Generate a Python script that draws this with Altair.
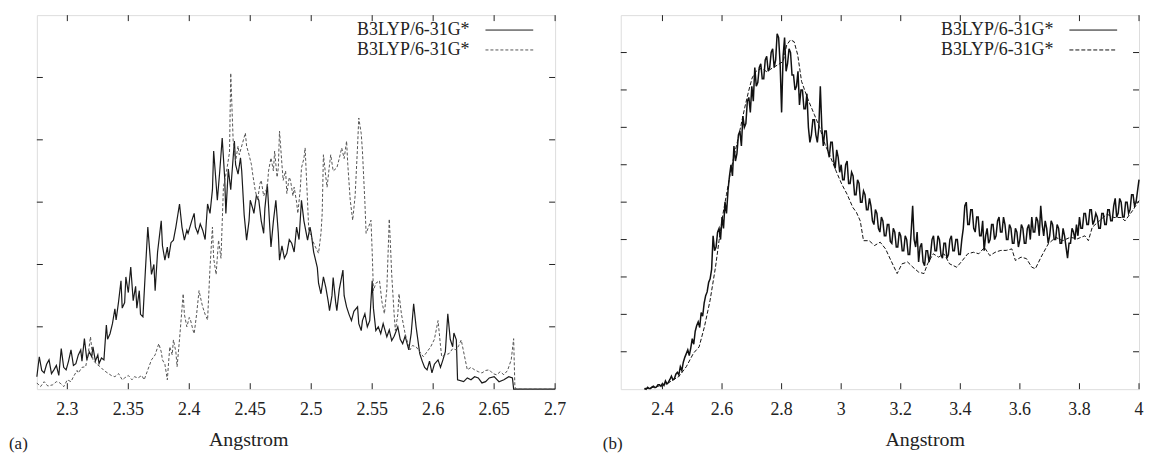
import altair as alt
import pandas as pd

FONT = "Liberation Serif"
W, H = 521, 376

LEGEND_LABELS = ["B3LYP/6-31G*", "B3LYP/6-31G*"]
X_TITLE = "Angstrom"
PANEL_TAGS = ["(a)", "(b)"]

# ---------------- panel (a) ----------------
A_XDOMAIN = [2.275, 2.7]
A_YDOMAIN = [0, 6]
A_XTICKS = [2.3, 2.35, 2.4, 2.45, 2.5, 2.55, 2.6, 2.65, 2.7]
A_XLABELS = ["2.3", "2.35", "2.4", "2.45", "2.5", "2.55", "2.6", "2.65", "2.7"]
A_YTICKS = [1, 2, 3, 4, 5]

A_SOLID_X = [2.275, 2.277, 2.279, 2.281, 2.283, 2.285, 2.287, 2.289, 2.291, 2.293, 2.295, 2.297, 2.299, 2.301, 2.303, 2.305, 2.307, 2.309, 2.311, 2.312, 2.314, 2.316, 2.318, 2.320, 2.321, 2.323, 2.325, 2.326, 2.328, 2.330, 2.332, 2.333, 2.335, 2.337, 2.339, 2.340, 2.342, 2.344, 2.345, 2.347, 2.348, 2.350, 2.352, 2.354, 2.356, 2.357, 2.359, 2.360, 2.362, 2.364, 2.366, 2.368, 2.369, 2.371, 2.372, 2.374, 2.377, 2.378, 2.380, 2.382, 2.383, 2.385, 2.387, 2.389, 2.392, 2.394, 2.396, 2.398, 2.399, 2.402, 2.404, 2.405, 2.407, 2.409, 2.411, 2.413, 2.415, 2.417, 2.419, 2.420, 2.422, 2.423, 2.425, 2.427, 2.429, 2.430, 2.432, 2.434, 2.437, 2.438, 2.440, 2.442, 2.443, 2.445, 2.447, 2.449, 2.450, 2.452, 2.453, 2.455, 2.457, 2.459, 2.461, 2.462, 2.464, 2.466, 2.467, 2.469, 2.471, 2.473, 2.474, 2.476, 2.478, 2.480, 2.482, 2.484, 2.486, 2.488, 2.490, 2.492, 2.494, 2.497, 2.499, 2.500, 2.502, 2.505, 2.506, 2.508, 2.510, 2.512, 2.514, 2.515, 2.517, 2.518, 2.520, 2.521, 2.523, 2.526, 2.527, 2.529, 2.531, 2.533, 2.535, 2.538, 2.539, 2.541, 2.542, 2.544, 2.546, 2.548, 2.550, 2.551, 2.553, 2.555, 2.557, 2.559, 2.562, 2.564, 2.566, 2.568, 2.571, 2.573, 2.575, 2.577, 2.580, 2.582, 2.584, 2.586, 2.589, 2.591, 2.593, 2.595, 2.597, 2.599, 2.601, 2.604, 2.606, 2.608, 2.610, 2.612, 2.614, 2.616, 2.617, 2.619, 2.620, 2.625, 2.628, 2.631, 2.634, 2.637, 2.640, 2.643, 2.646, 2.650, 2.654, 2.658, 2.662, 2.665, 2.666, 2.700]
A_SOLID_Y = [0.20, 0.52, 0.30, 0.26, 0.40, 0.47, 0.25, 0.31, 0.38, 0.22, 0.65, 0.35, 0.31, 0.45, 0.63, 0.38, 0.41, 0.55, 0.63, 0.45, 0.81, 0.47, 0.60, 0.52, 0.68, 0.45, 0.55, 0.41, 0.50, 0.47, 1.03, 0.80, 0.89, 1.05, 1.29, 1.11, 1.40, 1.74, 1.30, 1.39, 1.80, 1.55, 1.96, 1.42, 1.65, 1.30, 1.58, 1.20, 1.16, 1.90, 2.60, 2.10, 1.84, 2.00, 1.58, 2.20, 2.70, 2.30, 2.07, 2.28, 2.10, 2.35, 2.39, 2.60, 2.97, 2.60, 2.39, 2.55, 2.50, 2.70, 2.82, 2.60, 2.50, 2.65, 2.55, 2.40, 2.97, 2.82, 3.20, 3.82, 3.30, 3.03, 3.50, 4.03, 3.40, 2.82, 3.53, 3.20, 3.98, 3.60, 3.45, 3.71, 3.50, 2.80, 2.39, 2.70, 3.03, 2.90, 2.82, 3.10, 3.03, 2.70, 2.50, 2.90, 3.29, 2.60, 2.28, 2.70, 3.03, 2.50, 2.07, 2.30, 2.10, 2.18, 2.40, 2.34, 2.20, 2.60, 2.40, 3.03, 2.70, 2.39, 2.60, 2.50, 2.20, 1.95, 1.70, 1.53, 1.80, 1.63, 1.40, 1.26, 1.50, 1.79, 1.40, 1.26, 1.60, 1.91, 1.50, 1.32, 1.20, 1.10, 1.25, 1.32, 1.05, 0.94, 1.10, 1.21, 1.00, 1.10, 1.74, 1.30, 0.94, 1.00, 0.89, 1.05, 0.84, 0.95, 0.78, 0.85, 1.00, 0.80, 0.73, 0.85, 0.63, 0.90, 1.37, 1.00, 0.57, 0.45, 0.35, 0.31, 0.45, 0.26, 0.40, 0.47, 0.35, 0.47, 0.60, 1.21, 0.80, 0.68, 0.90, 0.79, 0.15, 0.12, 0.18, 0.15, 0.20, 0.18, 0.10, 0.12, 0.18, 0.20, 0.12, 0.15, 0.20, 0.18, 0.00, 0.00]

A_DASH_X = [2.275, 2.278, 2.281, 2.284, 2.288, 2.291, 2.294, 2.297, 2.300, 2.303, 2.305, 2.308, 2.309, 2.312, 2.315, 2.317, 2.319, 2.321, 2.324, 2.327, 2.330, 2.333, 2.336, 2.339, 2.342, 2.345, 2.347, 2.350, 2.353, 2.355, 2.358, 2.361, 2.363, 2.366, 2.369, 2.372, 2.375, 2.377, 2.378, 2.380, 2.382, 2.384, 2.386, 2.387, 2.389, 2.390, 2.392, 2.395, 2.396, 2.398, 2.400, 2.401, 2.403, 2.404, 2.406, 2.408, 2.410, 2.411, 2.413, 2.415, 2.417, 2.419, 2.420, 2.422, 2.424, 2.426, 2.428, 2.431, 2.433, 2.434, 2.436, 2.438, 2.440, 2.441, 2.443, 2.446, 2.447, 2.449, 2.451, 2.452, 2.454, 2.456, 2.458, 2.459, 2.461, 2.464, 2.465, 2.467, 2.469, 2.470, 2.472, 2.473, 2.474, 2.476, 2.477, 2.479, 2.480, 2.482, 2.483, 2.485, 2.486, 2.488, 2.489, 2.491, 2.492, 2.494, 2.495, 2.497, 2.498, 2.500, 2.501, 2.503, 2.506, 2.508, 2.509, 2.510, 2.512, 2.513, 2.515, 2.516, 2.518, 2.521, 2.523, 2.525, 2.527, 2.529, 2.530, 2.532, 2.534, 2.536, 2.538, 2.539, 2.541, 2.542, 2.544, 2.545, 2.547, 2.549, 2.550, 2.551, 2.553, 2.556, 2.558, 2.560, 2.562, 2.564, 2.565, 2.566, 2.568, 2.569, 2.571, 2.572, 2.574, 2.577, 2.579, 2.581, 2.583, 2.586, 2.589, 2.592, 2.595, 2.598, 2.601, 2.604, 2.606, 2.607, 2.610, 2.613, 2.616, 2.619, 2.621, 2.623, 2.626, 2.628, 2.631, 2.634, 2.637, 2.640, 2.643, 2.646, 2.649, 2.652, 2.655, 2.658, 2.661, 2.664, 2.666, 2.667, 2.668, 2.700]
A_DASH_Y = [0.10, 0.04, 0.12, 0.05, 0.07, 0.12, 0.10, 0.04, 0.15, 0.12, 0.20, 0.30, 0.26, 0.35, 0.36, 0.55, 0.84, 0.47, 0.40, 0.36, 0.30, 0.26, 0.22, 0.20, 0.25, 0.15, 0.18, 0.22, 0.15, 0.20, 0.18, 0.22, 0.15, 0.31, 0.47, 0.55, 0.73, 0.60, 0.47, 0.40, 0.15, 0.68, 0.55, 0.79, 0.60, 0.36, 0.80, 1.53, 1.20, 1.00, 1.15, 1.11, 0.95, 0.89, 1.20, 1.58, 1.40, 1.32, 1.20, 1.11, 1.95, 2.60, 2.10, 1.84, 2.39, 2.10, 3.24, 3.55, 3.80, 5.07, 3.98, 3.66, 3.90, 3.76, 3.90, 4.11, 3.90, 3.76, 3.60, 3.45, 3.20, 3.03, 3.30, 3.35, 3.10, 3.24, 3.50, 3.71, 3.50, 3.82, 3.40, 3.55, 4.14, 3.60, 3.35, 3.50, 3.14, 3.40, 3.35, 3.10, 3.24, 3.00, 2.82, 3.20, 3.55, 3.70, 3.87, 3.00, 2.54, 2.45, 2.39, 2.30, 2.18, 2.50, 2.82, 3.76, 3.40, 3.24, 3.60, 3.76, 3.50, 3.55, 3.70, 3.87, 3.70, 3.98, 3.60, 3.03, 2.71, 3.10, 3.90, 4.35, 4.10, 3.82, 3.00, 2.50, 2.60, 2.71, 2.20, 1.58, 1.70, 1.74, 1.40, 1.21, 1.60, 2.73, 2.30, 1.84, 1.20, 0.94, 1.20, 1.53, 1.20, 0.89, 0.75, 0.63, 0.70, 0.68, 0.60, 0.52, 0.60, 0.68, 0.80, 1.10, 0.70, 0.52, 0.55, 0.57, 0.65, 0.63, 0.70, 0.79, 0.50, 0.31, 0.35, 0.31, 0.28, 0.26, 0.30, 0.31, 0.25, 0.23, 0.28, 0.23, 0.30, 0.47, 0.81, 0.04, 0.00, 0.00]

# ---------------- panel (b) ----------------
B_XDOMAIN = [2.26, 4.0]
B_YDOMAIN = [0, 10]
B_XTICKS = [2.4, 2.6, 2.8, 3.0, 3.2, 3.4, 3.6, 3.8, 4.0]
B_XLABELS = ["2.4", "2.6", "2.8", "3", "3.2", "3.4", "3.6", "3.8", "4"]
B_YTICKS = [1, 2, 3, 4, 5, 6, 7, 8, 9]

# solid curve sampled every 0.005 from 2.34 to 4.00
B_SOLID_START = 2.34
B_SOLID_STEP = 0.005
B_SOLID_Y = [
    0.03, 0.00, 0.05, 0.02, 0.02, 0.06, 0.08, 0.04, 0.06, 0.12, 0.12, 0.08,
    0.15, 0.10, 0.22, 0.14, 0.18, 0.26, 0.35, 0.25, 0.28, 0.40, 0.45, 0.38, 0.60, 0.50, 0.72, 0.85, 0.95, 1.05, 0.90, 1.10,
    1.35, 1.20, 1.55, 1.70, 1.80, 1.65, 2.05, 1.95, 2.30, 2.50, 2.60, 2.85, 2.95, 3.20, 4.10, 3.70, 3.80, 4.20, 4.30, 4.00,
    4.60, 4.30, 5.00, 4.70, 5.30, 5.70, 6.00, 5.70, 6.50, 6.10, 6.30, 6.80, 6.90, 6.50, 7.30, 7.00, 7.10, 7.70, 7.80, 7.40,
    8.10, 7.70, 8.60, 8.10, 8.20, 8.60, 8.70, 8.30, 8.30, 8.80, 8.90, 8.50, 8.60, 9.00, 9.10, 8.60, 8.80, 9.50, 9.40, 8.70,
    7.40, 8.90, 9.40, 8.50, 8.70, 9.10, 9.00, 8.40, 8.40, 8.00, 8.10, 8.50, 7.60, 8.00, 8.00, 7.50, 7.50, 7.90, 7.00, 6.60,
    6.80, 7.20, 7.20, 6.80, 6.60, 7.00, 8.10, 7.00, 6.50, 6.90, 6.90, 6.40, 6.20, 6.60, 6.60, 6.10, 5.90, 6.40, 6.20, 5.80,
    6.00, 5.60, 5.60, 6.00, 6.10, 5.50, 5.50, 5.80, 5.70, 5.20, 5.20, 5.60, 5.50, 5.00, 5.00, 5.30, 5.20, 4.80, 4.80, 5.10,
    4.90, 4.50, 4.40, 4.80, 4.70, 4.30, 4.20, 4.60, 4.50, 4.10, 4.10, 4.40, 4.40, 3.95, 3.90, 4.30, 4.20, 3.80, 3.80, 4.20,
    4.10, 3.70, 3.70, 4.10, 4.00, 3.60, 3.60, 4.20, 4.90, 4.00, 3.80, 4.20, 3.40, 3.80, 3.90, 3.40, 3.30, 3.70, 3.70, 3.40,
    3.60, 4.00, 4.10, 3.70, 3.70, 4.10, 4.00, 3.60, 3.50, 3.90, 3.90, 3.50, 3.60, 4.00, 4.10, 3.70, 3.70, 4.00, 4.00, 3.60,
    3.60, 4.00, 4.30, 4.90, 5.00, 4.40, 4.40, 4.80, 4.80, 4.30, 4.20, 4.60, 4.60, 4.10, 4.10, 4.50, 3.70, 4.10, 4.30, 3.90,
    4.00, 4.40, 4.40, 4.00, 4.10, 4.50, 4.60, 4.20, 4.20, 4.60, 4.40, 4.00, 4.00, 4.40, 4.30, 3.90, 3.90, 4.30, 4.20, 3.80,
    4.00, 4.40, 4.30, 3.90, 3.90, 4.30, 4.40, 4.00, 4.60, 4.20, 4.20, 4.60, 4.50, 4.10, 4.90, 4.40, 4.10, 4.50, 4.30, 3.90,
    4.10, 4.50, 4.40, 4.00, 4.00, 4.40, 4.30, 3.90, 3.90, 4.30, 4.10, 3.80, 3.50, 3.90, 3.90, 4.30, 4.20, 4.00, 4.40, 4.10,
    4.60, 4.30, 4.30, 4.70, 4.70, 4.40, 4.40, 4.80, 4.80, 4.40, 4.50, 4.70, 4.60, 4.30, 4.30, 4.70, 4.70, 4.40, 4.40, 4.80,
    4.80, 4.50, 4.50, 4.90, 5.10, 4.60, 4.70, 5.10, 5.00, 4.60, 4.60, 5.00, 5.00, 4.70, 4.80, 5.20, 5.20, 4.90, 5.00, 5.30,
    5.60]

B_DASH_X = [2.339, 2.382, 2.418, 2.455, 2.480, 2.504, 2.523, 2.541, 2.560, 2.578, 2.590, 2.603, 2.615, 2.627, 2.639, 2.652, 2.664, 2.676, 2.689, 2.701, 2.713, 2.732, 2.750, 2.768, 2.787, 2.805, 2.817, 2.830, 2.842, 2.854, 2.867, 2.879, 2.891, 2.910, 2.928, 2.946, 2.965, 2.983, 3.002, 3.020, 3.039, 3.051, 3.064, 3.075, 3.094, 3.112, 3.131, 3.149, 3.167, 3.188, 3.204, 3.223, 3.241, 3.260, 3.278, 3.290, 3.309, 3.327, 3.345, 3.364, 3.388, 3.407, 3.425, 3.444, 3.462, 3.481, 3.499, 3.517, 3.536, 3.554, 3.573, 3.585, 3.604, 3.622, 3.640, 3.652, 3.671, 3.695, 3.720, 3.744, 3.769, 3.793, 3.818, 3.830, 3.843, 3.867, 3.892, 3.916, 3.941, 3.953, 3.978, 4.000]
B_DASH_Y = [0.00, 0.07, 0.16, 0.34, 0.60, 0.96, 1.13, 1.67, 2.38, 3.26, 3.97, 4.68, 5.21, 5.74, 6.19, 6.63, 7.07, 7.52, 7.96, 8.32, 8.49, 8.58, 8.49, 8.58, 8.67, 8.76, 9.20, 9.34, 9.29, 8.94, 8.23, 7.96, 7.70, 7.34, 6.99, 6.54, 6.19, 5.83, 5.48, 5.21, 4.86, 4.73, 4.50, 3.97, 3.97, 3.84, 3.93, 3.75, 3.44, 3.09, 3.35, 3.40, 3.26, 3.13, 3.09, 3.35, 3.62, 3.53, 3.62, 3.35, 3.26, 3.44, 3.62, 3.66, 3.62, 3.79, 3.57, 3.66, 3.71, 3.71, 3.75, 3.44, 3.53, 3.49, 3.26, 3.22, 3.53, 3.88, 4.06, 3.97, 4.06, 4.02, 4.10, 3.97, 4.33, 4.50, 4.68, 4.59, 4.59, 4.50, 4.77, 5.04]

B_SOLID_X = [round(B_SOLID_START + i * B_SOLID_STEP, 4) for i in range(len(B_SOLID_Y))]

TEXT_COLOR = "#222"


def panel(solid_x, solid_y, dash_x, dash_y, xdom, ydom, xticks, xlabels, yticks,
          tag, title_x, tag_x, solid_color, dash_color, dash_pattern, solid_width):
    xscale = alt.Scale(domain=xdom, nice=False, zero=False)
    yscale = alt.Scale(domain=ydom, nice=False, zero=False)

    def X(field="x"):
        return alt.X(f"{field}:Q", scale=xscale, axis=None)

    def Y():
        return alt.Y("y:Q", scale=yscale, axis=None)

    solid = alt.Chart(pd.DataFrame({"x": solid_x, "y": solid_y})).mark_line(
        color=solid_color, strokeWidth=solid_width
    ).encode(x=X(), y=Y())
    dashed = alt.Chart(pd.DataFrame({"x": dash_x, "y": dash_y})).mark_line(
        color=dash_color, strokeWidth=1.0, strokeDash=dash_pattern
    ).encode(x=X(), y=Y())

    xt = pd.DataFrame({"x": xticks, "label": xlabels})
    yt = pd.DataFrame({"y": yticks})
    tick_style = dict(color="#222", strokeWidth=1)
    bottom = alt.Chart(xt).mark_rule(**tick_style).encode(
        x=X(), y=alt.value(H), y2=alt.value(H - 6))
    top = alt.Chart(xt).mark_rule(**tick_style).encode(
        x=X(), y=alt.value(0), y2=alt.value(6))
    left = alt.Chart(yt).mark_rule(**tick_style).encode(
        y=Y(), x=alt.value(0), x2=alt.value(6))
    right = alt.Chart(yt).mark_rule(**tick_style).encode(
        y=Y(), x=alt.value(W), x2=alt.value(W - 6))

    tick_labels = alt.Chart(xt).mark_text(
        font=FONT, fontSize=18, align="center", baseline="middle", color=TEXT_COLOR
    ).encode(x=X(), y=alt.value(H + 21), text="label:N")

    title = alt.Chart(pd.DataFrame({"t": [X_TITLE]})).mark_text(
        font=FONT, fontSize=20, align="center", baseline="middle", color=TEXT_COLOR
    ).encode(text="t:N", x=alt.value(title_x), y=alt.value(H + 51))

    leg_df = pd.DataFrame({"label": LEGEND_LABELS, "row": [0, 1]})
    legend_layers = []
    for i, (ypix, dash) in enumerate([(15, None), (35, dash_pattern)]):
        row = leg_df[leg_df["row"] == i]
        legend_layers.append(
            alt.Chart(row).mark_text(
                font=FONT, fontSize=18, align="right", baseline="middle", color=TEXT_COLOR
            ).encode(text="label:N", x=alt.value(435), y=alt.value(ypix))
        )
        rule_kwargs = dict(color=solid_color if dash is None else dash_color, strokeWidth=1)
        if dash is not None:
            rule_kwargs["strokeDash"] = dash
        legend_layers.append(
            alt.Chart(row).mark_rule(**rule_kwargs).encode(
                x=alt.value(451), x2=alt.value(499), y=alt.value(ypix))
        )

    tag_layer = alt.Chart(pd.DataFrame({"t": [tag]})).mark_text(
        font=FONT, fontSize=17, align="left", baseline="middle", color=TEXT_COLOR
    ).encode(text="t:N", x=alt.value(tag_x), y=alt.value(431))

    return alt.layer(solid, dashed, bottom, top, left, right, tick_labels, title,
                     *legend_layers, tag_layer).properties(width=W, height=H)


pa = panel(A_SOLID_X, A_SOLID_Y, A_DASH_X, A_DASH_Y, A_XDOMAIN, A_YDOMAIN,
           A_XTICKS, A_XLABELS, A_YTICKS, PANEL_TAGS[0], 213, -28,
           "#1a1a1a", "#555", [3, 2], 1.2)
pb = panel(B_SOLID_X, B_SOLID_Y, B_DASH_X, B_DASH_Y, B_XDOMAIN, B_YDOMAIN,
           B_XTICKS, B_XLABELS, B_YTICKS, PANEL_TAGS[1], 306, -18,
           "#111", "#111", [4, 2], 1.5)

chart = alt.hconcat(pa, pb, spacing=66, bounds="flush").properties(
    padding={"left": 0, "top": 5, "right": 0, "bottom": 0}
).configure_view(stroke="#111", strokeWidth=1.2).configure(background="white")

chart.save("out.html", embed_options={"renderer": "svg", "actions": False})
